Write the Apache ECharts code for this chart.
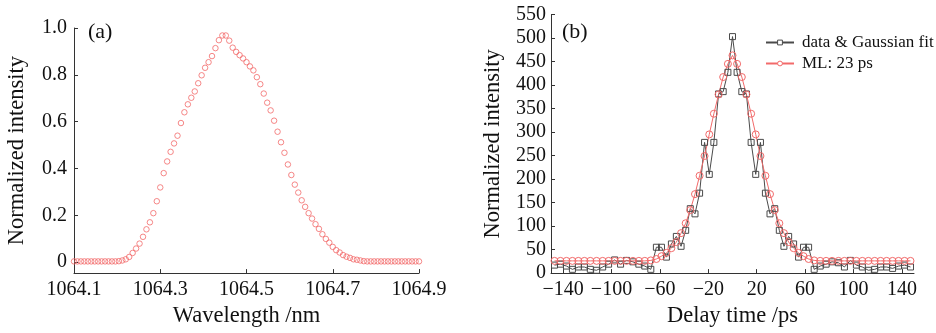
<!DOCTYPE html>
<html>
<head>
<meta charset="utf-8">
<script src="https://cdn.jsdelivr.net/npm/echarts@6/dist/echarts.min.js"></script>
<style>html,body{margin:0;padding:0;background:#fff}#c{width:936px;height:333px}</style>
</head>
<body>
<div id="c"></div>
<script>
// ---- Panel (a): spectrum ----
const wavelength = [1064.100,1064.108,1064.116,1064.124,1064.132,1064.140,1064.148,1064.156,1064.164,1064.172,
1064.180,1064.188,1064.196,1064.204,1064.212,1064.220,1064.228,1064.236,1064.244,1064.252,
1064.260,1064.268,1064.276,1064.284,1064.292,1064.300,1064.308,1064.316,1064.324,1064.332,
1064.340,1064.348,1064.356,1064.364,1064.372,1064.380,1064.388,1064.396,1064.404,1064.412,
1064.420,1064.428,1064.436,1064.444,1064.452,1064.460,1064.468,1064.476,1064.484,1064.492,
1064.500,1064.508,1064.516,1064.524,1064.532,1064.540,1064.548,1064.556,1064.564,1064.572,
1064.580,1064.588,1064.596,1064.604,1064.612,1064.620,1064.628,1064.636,1064.644,1064.652,
1064.660,1064.668,1064.676,1064.684,1064.692,1064.700,1064.708,1064.716,1064.724,1064.732,
1064.740,1064.748,1064.756,1064.764,1064.772,1064.780,1064.788,1064.796,1064.804,1064.812,
1064.820,1064.828,1064.836,1064.844,1064.852,1064.860,1064.868,1064.876,1064.884,1064.892,1064.900];
const spectrum = [0.003,0.003,0.003,0.003,0.003,0.003,0.003,0.003,0.003,0.003,
0.003,0.003,0.003,0.004,0.007,0.012,0.022,0.039,0.058,0.079,
0.108,0.14,0.17,0.209,0.26,0.319,0.38,0.43,0.471,0.507,
0.54,0.594,0.64,0.674,0.702,0.729,0.764,0.798,0.83,0.854,
0.88,0.914,0.948,0.968,0.968,0.946,0.916,0.898,0.884,0.87,
0.854,0.836,0.819,0.79,0.76,0.72,0.681,0.648,0.604,0.557,
0.512,0.467,0.417,0.372,0.331,0.297,0.264,0.236,0.209,0.186,
0.162,0.142,0.119,0.099,0.083,0.065,0.051,0.041,0.03,0.023,
0.018,0.012,0.01,0.007,0.004,0.003,0.003,0.003,0.003,0.003,
0.003,0.003,0.003,0.003,0.003,0.003,0.003,0.003,0.003,0.003,0.003];
const aXTicks = [1064.1,1064.3,1064.5,1064.7,1064.9];
const aYTicks = [0,0.2,0.4,0.6,0.8,1.0];

// ---- Panel (b): autocorrelation ----
const delay = [-147.1,-142.2,-137.2,-132.3,-127.4,-122.4,-117.5,-112.3,-107.3,-102.4,
-97.4,-92.5,-87.6,-82.3,-77.4,-72.5,-67.5,-62.9,-58.7,-54.6,
-50.5,-46.4,-42.5,-38.7,-34.9,-31.0,-27.2,-23.1,-19.2,-15.4,
-11.5,-7.7,-3.8,0,3.8,7.7,11.5,15.4,19.2,23.1,
27.2,31.0,34.9,38.7,42.5,46.4,50.5,54.6,58.7,62.9,
67.5,72.5,77.4,82.3,87.6,92.5,97.4,102.4,107.3,112.3,
117.5,122.4,127.4,132.3,137.2,142.2,147.1];
const dataFit = [17,19,15,8,13,13,8,6,13,19,
28,19,27,24,19,15,8,55,55,34,
62,78,57,91,137,126,170,278,210,278,
381,386,427,503,427,386,381,278,210,278,
170,126,137,91,57,78,62,34,55,55,
8,15,19,24,22,13,27,17,13,6,
8,13,13,10,15,17,13];
const mlSim = [26,26,26,26,26,26,26,26,26,26,
26,26,26,26,26,26,27,30,36,43,
53,66,85,106,134,168,207,249,295,339,
380,417,445,463,445,417,380,339,295,249,
207,168,134,106,85,66,53,43,36,30,
27,26,26,26,26,26,26,26,26,26,
26,26,26,26,26,26,26];
const bXTicks = [-140,-100,-60,-20,20,60,100,140];
const seriesNames = ['data & Gaussian fit','ML: 23 ps'];

const RED = '#f26a6a';
const DARK = '#4a4a4a';
const FONT = 'Liberation Serif';
const TXT = '#111';

function pairs(xs, ys){ return xs.map((x,i)=>[x, ys[i]]); }

const axisLineStyle = {onZero:false, lineStyle:{color:'#333', width:1}};
const chart = echarts.init(document.getElementById('c'), null, {renderer:'canvas'});
chart.setOption({
  animation:false,
  backgroundColor:'#fff',
  textStyle:{fontFamily:FONT},
  grid:[
    {left:74, top:28, width:345, height:253, containLabel:false},
    {left:551, top:14.5, width:363, height:266, containLabel:false}
  ],
  xAxis:[
    {gridIndex:0, type:'value', min:1064.1, max:1064.9,
     axisLine:axisLineStyle, splitLine:{show:false},
     axisTick:{inside:true, length:4, customValues:aXTicks, lineStyle:{color:'#333'}},
     axisLabel:{customValues:aXTicks, margin:7, fontSize:20, color:TXT, fontFamily:FONT,
       formatter:v=>Number(v).toFixed(1)},
     name:'Wavelength /nm', nameLocation:'middle', nameGap:27,
     nameTextStyle:{fontSize:22.5, color:TXT, fontFamily:FONT}},
    {gridIndex:1, type:'value', min:-150, max:150,
     axisLine:axisLineStyle, splitLine:{show:false},
     axisTick:{inside:true, length:4, customValues:bXTicks, lineStyle:{color:'#333'}},
     axisLabel:{customValues:bXTicks, margin:7, fontSize:20, color:TXT, fontFamily:FONT,
       formatter:v=>String(v).replace('-','\u2212')},
     name:'Delay time /ps', nameLocation:'middle', nameGap:27,
     nameTextStyle:{fontSize:22.5, color:TXT, fontFamily:FONT}}
  ],
  yAxis:[
    {gridIndex:0, type:'value', min:-0.047, max:1.0,
     axisLine:axisLineStyle, splitLine:{show:false},
     axisTick:{inside:true, length:4, customValues:aYTicks, lineStyle:{color:'#333'}},
     axisLabel:{customValues:aYTicks, margin:7, fontSize:20, color:TXT, fontFamily:FONT,
       formatter:v=>(Math.abs(v)<1e-9?'0':Number(v).toFixed(1))},
     name:'Normalized intensity', nameLocation:'middle', nameGap:45,
     nameTextStyle:{fontSize:22.5, color:TXT, fontFamily:FONT}},
    {gridIndex:1, type:'value', min:0, max:550, interval:50,
     axisLine:axisLineStyle, splitLine:{show:false},
     axisTick:{inside:true, length:4, lineStyle:{color:'#333'}},
     axisLabel:{margin:5, fontSize:20, color:TXT, fontFamily:FONT},
     name:'Normalized intensity', nameLocation:'middle', nameGap:46,
     nameTextStyle:{fontSize:22.5, color:TXT, fontFamily:FONT}}
  ],
  legend:{
    left:765, top:34, orient:'vertical', padding:0, itemWidth:28, itemHeight:6, itemGap:4,
    textStyle:{fontSize:17, color:TXT, fontFamily:FONT, padding:[0,0,0,3]},
    data:[
      {name:seriesNames[0], itemStyle:{color:'#fff', borderColor:DARK, borderWidth:1}},
      {name:seriesNames[1], itemStyle:{color:'#fff', borderColor:RED, borderWidth:1}}
    ]
  },
  graphic:[
    {type:'text', left:88, top:21, style:{text:'(a)', font:'22px "Liberation Serif"', fill:TXT}},
    {type:'text', left:562, top:21, style:{text:'(b)', font:'22px "Liberation Serif"', fill:TXT}}
  ],
  series:[
    {type:'scatter', xAxisIndex:0, yAxisIndex:0, data:pairs(wavelength, spectrum),
     symbol:'circle', symbolSize:5.5,
     itemStyle:{color:'rgba(255,255,255,0)', borderColor:RED, borderWidth:1}},
    {type:'line', name:seriesNames[0], xAxisIndex:1, yAxisIndex:1, data:pairs(delay, dataFit),
     symbol:'rect', symbolSize:6, showSymbol:true,
     lineStyle:{color:DARK, width:1},
     itemStyle:{color:'rgba(255,255,255,0)', borderColor:DARK, borderWidth:1}},
    {type:'line', name:seriesNames[1], xAxisIndex:1, yAxisIndex:1, data:pairs(delay, mlSim),
     symbol:'circle', symbolSize:7, showSymbol:true,
     lineStyle:{color:RED, width:1},
     itemStyle:{color:'rgba(255,255,255,0)', borderColor:RED, borderWidth:1}}
  ]
});
</script>
</body>
</html>
